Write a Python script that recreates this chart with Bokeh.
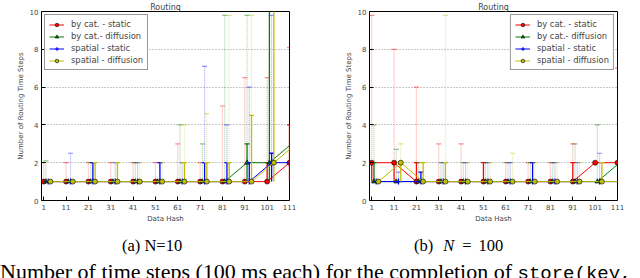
from bokeh.plotting import figure
from bokeh.models import Range1d, FixedTicker, Legend, LegendItem, Div
from bokeh.layouts import row, column
from bokeh.embed import file_html
from bokeh.resources import INLINE

# ---------------- data ----------------
groups = [1, 11, 21, 31, 41, 51, 61, 71, 81, 91, 101, 111]
x_ticks = [1, 11, 21, 31, 41, 51, 61, 71, 81, 91, 101, 111]
y_ticks = [0, 2, 4, 6, 8, 10]
series_names = ["by cat. - static", "by cat.- diffusion", "spatial - static", "spatial - diffusion"]
plot_title = "Routing"
x_label = "Data Hash"
y_label = "Number of Routing Time Steps"

# Panel (a) N=10 : median, lower bar, upper bar, max (dotted whisker)
a_red_med = [1, 1, 1, 1, 1, 1, 1, 1, 1, 1, 1, 2]
a_red_lo = [1, 1, 1, 1, 1, 1, 1, 1, 1, 1, 1, 1]
a_red_hi = [1, 1, 1, 1, 1, 1, 1, 1, 1, 1, 2, 4]
a_red_max = [2, 2, 2, 2, 2, 2, 3, 2, 5, 6.5, 6.5, 8.1]

a_grn_med = [1, 1, 1, 1, 1, 1, 1, 1, 1, 2, 2, 3]
a_grn_lo = [1, 1, 1, 1, 1, 1, 1, 1, 1, 1, 1, 2]
a_grn_hi = [1, 1, 1, 1, 1, 1, 1, 1, 1, 3, 10.5, 10.5]
a_grn_max = [2.1, 1, 2, 1, 2, 1, 4, 3, 9.8, 9.8, 10.5, 10.5]

a_blu_med = [1, 1, 1, 1, 1, 1, 1, 1, 1, 1, 2, 2]
a_blu_lo = [1, 1, 1, 1, 1, 1, 1, 1, 1, 1, 1, 1]
a_blu_hi = [1, 1, 2, 1, 1, 2, 1, 2, 2, 2, 2.5, 2]
a_blu_max = [1, 2.5, 2, 2, 2, 2, 2, 7.1, 4, 6, 9.8, 2]

a_yel_med = [1, 1, 1, 1, 1, 1, 1, 1, 1, 1, 2, 3]
a_yel_lo = [1, 1, 1, 1, 1, 1, 1, 1, 1, 1, 1, 1]
a_yel_hi = [1, 1, 2, 2, 1, 1, 2, 2, 2, 4.5, 10.5, 3]
a_yel_max = [1, 1, 2, 2, 2, 2, 4, 4.6, 9.8, 9.8, 10.5, 3]

# Panel (b) N=100
b_red_med = [2, 2, 1, 1, 1, 1, 1, 1, 1, 1, 2, 2]
b_red_lo = [1, 1, 1, 1, 1, 1, 1, 1, 1, 1, 2, 2]
b_red_hi = [2, 2, 2, 1, 1, 2, 1, 1, 1, 2, 2, 2]
b_red_max = [9.8, 8, 6, 3, 3, 2, 2, 2, 2, 3, 2, 7]

b_grn_med = [1, 1, 1, 1, 1, 1, 1, 1, 1, 1, 1, 2]
b_grn_lo = [1, 1, 1, 1, 1, 1, 1, 1, 1, 1, 1, 1]
b_grn_hi = [2, 1, 1, 1, 1, 1, 1, 1, 1, 1, 1, 2]
b_grn_max = [4, 2.7, 2, 2, 2, 2, 2, 2, 2, 3, 4, 5]

b_blu_med = [1, 1, 1, 1, 1, 1, 1, 1, 1, 1, 1, 1]
b_blu_lo = [1, 1, 1, 1, 1, 1, 1, 1, 1, 1, 1, 1]
b_blu_hi = [1, 1, 1.5, 1, 1, 1, 1, 2, 1, 1, 1, 1]
b_blu_max = [1, 1.5, 1.5, 2, 2, 2, 2, 2, 2, 2, 2.5, 1]

b_yel_med = [1, 2, 1, 1, 1, 1, 1, 1, 1, 1, 1, 1]
b_yel_lo = [1, 1, 1, 1, 1, 1, 1, 1, 1, 1, 1, 1]
b_yel_hi = [1, 2, 2, 2, 1, 1, 1, 1, 1, 1, 2, 1]
b_yel_max = [1, 3, 2, 9.8, 2, 2, 2.5, 2, 2, 2, 2, 1]

panel_a = [(a_red_med, a_red_lo, a_red_hi, a_red_max),
           (a_grn_med, a_grn_lo, a_grn_hi, a_grn_max),
           (a_blu_med, a_blu_lo, a_blu_hi, a_blu_max),
           (a_yel_med, a_yel_lo, a_yel_hi, a_yel_max)]
panel_b = [(b_red_med, b_red_lo, b_red_hi, b_red_max),
           (b_grn_med, b_grn_lo, b_grn_hi, b_grn_max),
           (b_blu_med, b_blu_lo, b_blu_hi, b_blu_max),
           (b_yel_med, b_yel_lo, b_yel_hi, b_yel_max)]

# ---------------- styles ----------------
COLORS = ["#ff0000", "#008000", "#0000ff", "#bfbf00"]
MARKERS = ["circle", "triangle", "cross", "circle"]
OFFSETS = [0, 1, 2, 3]
SANS = "DejaVu Sans"


def make_panel(data, legend_loc, mb_left, mb_right):
    p = figure(width=320, height=225, x_range=Range1d(0, 111), y_range=Range1d(0, 10),
               output_backend="svg", toolbar_location=None,
               min_border_left=mb_left, min_border_right=mb_right,
               min_border_top=10, min_border_bottom=24)
    p.title.text = plot_title
    p.title.align = "center"
    p.title.text_font = SANS
    p.title.text_font_size = "8px"
    p.title.text_font_style = "normal"
    p.title.standoff = 0
    p.outline_line_color = "black"
    p.outline_line_width = 1
    p.background_fill_color = "white"
    p.border_fill_color = "white"

    p.xgrid.grid_line_color = None
    p.ygrid.ticker = FixedTicker(ticks=y_ticks)
    p.ygrid.grid_line_color = "#777777"
    p.ygrid.grid_line_dash = "1 2"
    p.ygrid.grid_line_alpha = 0.8

    p.xaxis.ticker = FixedTicker(ticks=x_ticks)
    p.yaxis.ticker = FixedTicker(ticks=y_ticks)
    for ax in (p.xaxis[0], p.yaxis[0]):
        ax.axis_line_color = None
        ax.major_tick_in = 4
        ax.major_tick_out = 0
        ax.minor_tick_line_color = None
        ax.major_label_text_font = SANS
        ax.major_label_text_font_size = "7px"
        ax.major_label_standoff = 3
        ax.axis_label_text_font = SANS
        ax.axis_label_text_font_size = "7px"
        ax.axis_label_text_font_style = "normal"
        ax.axis_label_standoff = 2
    p.xaxis.axis_label = x_label
    p.yaxis.axis_label = y_label

    items = []
    for k, (med, lo, hi, mx) in enumerate(data):
        c = COLORS[k]
        xs = [g + OFFSETS[k] for g in groups]
        # faded dotted whiskers up to the max
        wx = [x for x, h, m in zip(xs, hi, mx) if m > h]
        wy0 = [h for h, m in zip(hi, mx) if m > h]
        wy1 = [m for h, m in zip(hi, mx) if m > h]
        if wx:
            p.segment(x0=wx, y0=wy0, x1=wx, y1=wy1, line_color=c, line_alpha=0.35,
                      line_width=1.2, line_dash="1 1")
            p.scatter(x=wx, y=wy1, marker="dash", size=5, line_color=c, line_alpha=0.45,
                      line_width=1.2)
        # solid error bars
        ex = [x for x, l, h in zip(xs, lo, hi) if h > l]
        ey0 = [l for l, h in zip(lo, hi) if h > l]
        ey1 = [h for l, h in zip(lo, hi) if h > l]
        if ex:
            p.segment(x0=ex, y0=ey0, x1=ex, y1=ey1, line_color=c, line_width=1.3)
            p.scatter(x=ex, y=ey1, marker="dash", size=5, line_color=c, line_width=1.3)
        ln = p.line(xs, med, line_color=c, line_width=1)
        is_cross = MARKERS[k] == "cross"
        mk = p.scatter(xs, med, marker=MARKERS[k], size=6 if is_cross else 5,
                       fill_color=c, line_color=c if is_cross else "black",
                       line_width=1.2 if is_cross else 0.6)
        items.append(LegendItem(label=series_names[k], renderers=[ln, mk]))

    leg = Legend(items=items, location=legend_loc)
    leg.label_text_font = SANS
    leg.label_text_font_size = "8.4px"
    leg.glyph_width = 15
    leg.glyph_height = 9
    leg.label_height = 9
    leg.spacing = 2
    leg.padding = 4
    leg.margin = 3
    leg.label_standoff = 7
    leg.border_line_color = "#333333"
    leg.border_line_width = 1.5
    leg.background_fill_alpha = 1.0
    p.add_layout(leg)
    return p


p1 = make_panel(panel_a, "top_left", 41, 31)
p2 = make_panel(panel_b, "top_right", 49, 23)

cap_style = ("font-family:'Liberation Serif',serif;font-size:16.5px;line-height:16px;"
             "color:black;white-space:nowrap;margin:0;padding-top:13px;")
div_a = Div(text=f"<div style=\"{cap_style}padding-left:122px\">(a) N=10</div>",
            width=320, height=33, styles={"overflow": "hidden", "margin": "0"})
div_b = Div(text=(f"<div style=\"{cap_style}padding-left:94px\">"
                  "<span>(b)</span>"
                  "<span style=\"margin-left:10px;font-style:italic\">N</span>"
                  "<span style=\"margin-left:8px\">=</span>"
                  "<span style=\"margin-left:7px\">100</span></div>"),
            width=320, height=33, styles={"overflow": "hidden", "margin": "0"})
bottom = Div(text=("<div style=\"font-family:'Liberation Serif',serif;font-size:22px;"
                   "line-height:22px;color:black;white-space:nowrap;margin:0;"
                   "padding-top:3px;\">Number of time steps (100 ms each) for the "
                   "completion of <span style=\"font-family:'Liberation Mono',monospace;"
                   "font-size:19px\">store(key, v)</span> on</div>"),
             width=640, height=20, styles={"overflow": "hidden", "margin": "0"})

layout = column(row(p1, p2, spacing=0), row(div_a, div_b, spacing=0), bottom, spacing=0)
open("out.html", "w").write(file_html(layout, INLINE))
